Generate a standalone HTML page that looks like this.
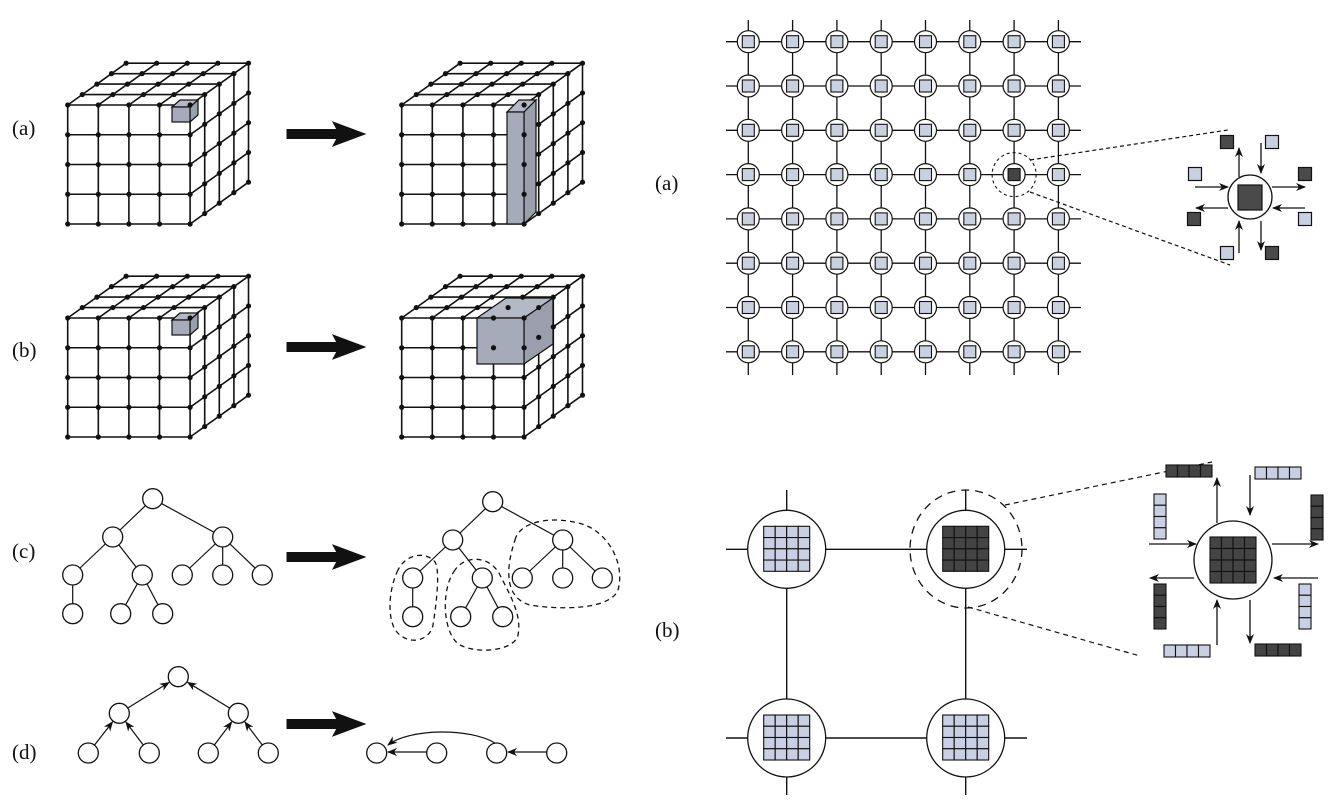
<!DOCTYPE html>
<html><head><meta charset="utf-8"><style>
html,body{margin:0;padding:0;background:#fff;}
svg{display:block;}
text{font-family:"Liberation Serif",serif;font-size:21px;font-weight:normal;fill:#111;}
</style></head><body>
<svg id="s" width="1341" height="811" viewBox="0 0 1341 811" xmlns="http://www.w3.org/2000/svg">
<defs>
<marker id="ah" markerWidth="10" markerHeight="8" refX="9" refY="4" orient="auto" markerUnits="userSpaceOnUse"><path d="M0,0 L10,4 L0,8 L3,4 Z" fill="#111"/></marker>
</defs>
<g id="g"></g>
<text x="12" y="135">(a)</text>
<text x="12" y="357">(b)</text>
<text x="12" y="558">(c)</text>
<text x="12" y="759">(d)</text>
<text x="655" y="190">(a)</text>
<text x="655" y="637">(b)</text>
</svg>
<script>
var g=document.getElementById('g'),out='';
function L(x1,y1,x2,y2,ex){out+='<line x1="'+x1+'" y1="'+y1+'" x2="'+x2+'" y2="'+y2+'" stroke="#111" stroke-width="'+(ex&&ex.w||1.6)+'"'+(ex&&ex.d?' stroke-dasharray="'+ex.d+'"':'')+(ex&&ex.m?' marker-end="url(#ah)"':'')+'/>';}
function C(x,y,r,ex){out+='<circle cx="'+x+'" cy="'+y+'" r="'+r+'" fill="'+(ex&&ex.f||'#fff')+'" stroke="#111" stroke-width="'+(ex&&ex.w||1.3)+'"'+(ex&&ex.d?' stroke-dasharray="'+ex.d+'"':'')+'/>';}
function R(x,y,w,h,f,sw){out+='<rect x="'+x+'" y="'+y+'" width="'+w+'" height="'+h+'" fill="'+f+'" stroke="#111" stroke-width="'+(sw||1.2)+'"/>';}
function P(d,f,ex){out+='<path d="'+d+'" fill="'+(f||'none')+'" stroke="#111" stroke-width="'+(ex&&ex.w||1.3)+'"'+(ex&&ex.d?' stroke-dasharray="'+ex.d+'"':'')+'/>';}
function cube(ox,oy,extra){
 var fx=[],fy=[];for(var i=0;i<5;i++){fx.push(ox+i*30.6);fy.push(oy+i*29.75);}
 var dx=14.6,dy=-10.45;
 for(var j=0;j<5;j++)L(fx[0],fy[j],fx[4],fy[j]);
 for(var i=0;i<5;i++)L(fx[i],fy[0],fx[i],fy[4]);
 for(var k=1;k<5;k++){L(fx[0]+k*dx,fy[0]+k*dy,fx[4]+k*dx,fy[0]+k*dy);L(fx[4]+k*dx,fy[0]+k*dy,fx[4]+k*dx,fy[4]+k*dy);}
 for(var i=0;i<5;i++)L(fx[i],fy[0],fx[i]+4*dx,fy[0]+4*dy);
 for(var j=1;j<5;j++)L(fx[4],fy[j],fx[4]+4*dx,fy[j]+4*dy);
 if(extra)extra();
 var d=function(x,y){out+='<circle cx="'+x+'" cy="'+y+'" r="2.6" fill="#111"/>';};
 for(var i=0;i<5;i++)for(var j=0;j<5;j++)d(fx[i],fy[j]);
 for(var k=1;k<5;k++){for(var i=0;i<5;i++)d(fx[i]+k*dx,fy[0]+k*dy);for(var j=1;j<5;j++)d(fx[4]+k*dx,fy[j]+k*dy);}
}
function box(x1,y1,x2,y2,ddx,ddy){
 P('M'+x1+','+y1+' L'+(x1+ddx)+','+(y1+ddy)+' L'+(x2+ddx)+','+(y1+ddy)+' L'+x2+','+y1+' Z','#b4b9c6',{w:1.2});
 P('M'+x2+','+y1+' L'+(x2+ddx)+','+(y1+ddy)+' L'+(x2+ddx)+','+(y2+ddy)+' L'+x2+','+y2+' Z','#9a9fae',{w:1.2});
 R(x1,y1,x2-x1,y2-y1,'#a6abb9');
}
cube(67.7,105,function(){box(172,107,190,122,8,-7);});
cube(401.7,105,function(){box(507,112,524,224,12,-12);});
cube(67.7,318,function(){box(172,320,190,335,8,-7);});
cube(401.7,318,function(){box(477,318,524,364,29,-20);});
function big(y){P('M287,'+(y-4.5)+' L337,'+(y-4.5)+' L333,'+(y-12)+' L365,'+y+' L333,'+(y+12)+' L337,'+(y+4.5)+' L287,'+(y+4.5)+' Z','#111',{w:1});}
big(134);big(347);big(557);big(724);
function tree(sx,sy){
 var n={r:[492.7,501.7],a:[452.7,540],b:[562.7,540],c:[412.7,578],d:[482.3,578],e:[522.3,578],f:[562.7,578],h:[602.3,578],i:[412.7,616.7],j:[460.7,616.7],k:[502.7,616.7]};
 for(var q in n){n[q][0]+=sx;n[q][1]+=sy;}
 var E=[['r','a'],['r','b'],['a','c'],['a','d'],['b','e'],['b','f'],['b','h'],['c','i'],['d','j'],['d','k']];
 E.forEach(function(e){L(n[e[0]][0],n[e[0]][1],n[e[1]][0],n[e[1]][1],{w:1.2});});
 for(var q in n)C(n[q][0],n[q][1],10);
}
tree(-340,-3);tree(0,0);
var dd={d:'5,4',w:1.3};
P('M398,570 C388,590 386,625 400,635 C412,645 430,640 433,625 C437,600 440,570 435,562 C425,550 405,555 398,570 Z',null,dd);
P('M455,570 C440,590 443,635 460,645 C480,655 515,650 518,635 C522,615 510,595 500,575 C490,555 465,555 455,570 Z',null,dd);
P('M515,540 C520,520 555,515 585,525 C610,535 625,565 618,590 C610,610 560,610 530,605 C505,598 505,570 515,540 Z',null,dd);
var T={r:[178.3,676.7],a:[119.3,713.3],b:[238.3,713.3],c:[88.3,753],d:[149.3,753],e:[208.3,753],f:[268.3,753]};
function arr(p,q,r){var dx=q[0]-p[0],dy=q[1]-p[1],l=Math.hypot(dx,dy);L(p[0]+dx/l*r,p[1]+dy/l*r,q[0]-dx/l*(r+1),q[1]-dy/l*(r+1),{w:1.2,m:1});}
[['a','r'],['b','r'],['c','a'],['d','a'],['e','b'],['f','b']].forEach(function(e){arr(T[e[0]],T[e[1]],10);});
for(var q in T)C(T[q][0],T[q][1],10);
var U=[[376.7,753],[436.7,753],[496.7,753],[556.7,753]];
U.forEach(function(u){C(u[0],u[1],10);});
L(426.7,752,388,752,{w:1.2,m:1});L(546.7,752,508,752,{w:1.2,m:1});
out+='<path d="M495,743 C470,728 410,728 388,745" fill="none" stroke="#111" stroke-width="1.2" marker-end="url(#ah)"/>';
var gx=[],gy=[];for(var i=0;i<8;i++){gx.push(748.3+i*44.3);gy.push(41.7+i*44.3);}
for(var i=0;i<8;i++){L(726,gy[i],1081,gy[i],{w:1.3});L(gx[i],20,gx[i],375,{w:1.3});}
for(var i=0;i<8;i++)for(var j=0;j<8;j++){C(gx[i],gy[j],11,{w:1.2});R(gx[i]-6,gy[j]-6,12,12,(i==6&&j==3)?'#444':'#c9d0e0',1.1);}
C(gx[6],gy[3],22,{f:'none',d:'3,3',w:1.1});
L(1030,160,1228,130,{d:'4,3',w:1.2});L(1030,192,1230,265,{d:'4,3',w:1.2});
C(1250,197,22,{w:1.3});R(1238,185,24,25,'#4a4a4a');
[[1227,142,1],[1272,142,0],[1195,174,0],[1305,174,1],[1194,219,1],[1305,219,0],[1227,253,0],[1272,253,1]].forEach(function(s){R(s[0]-6.5,s[1]-6.5,13,13,s[2]?'#4a4a4a':'#c9d0e0');});
var am={w:1.3,m:1};
L(1239,177,1239,148,am);L(1261,143,1261,173,am);L(1195,187,1228,187,am);L(1272,187,1305,187,am);
L(1228,208,1196,208,am);L(1305,208,1273,208,am);L(1239,253,1239,221,am);L(1261,221,1261,250,am);
var bx=[786.7,965.7],by=[549.3,738];
for(var j=0;j<2;j++){L(726,by[j],1027,by[j],{w:1.4});L(bx[j],490,bx[j],795,{w:1.4});}
function gridSq(x,y,w,h,nx,ny,f){for(var i=0;i<nx;i++)for(var j=0;j<ny;j++)R(x+i*w/nx,y+j*h/ny,w/nx,h/ny,f,1.1);}
for(var i=0;i<2;i++)for(var j=0;j<2;j++){C(bx[i],by[j],39,{w:1.3});var dk=(i==1&&j==0);gridSq(bx[i]-23,by[j]-23,46,45,4,4,dk?'#444':'#c9d0e4');}
out+='<ellipse cx="966" cy="549" rx="56" ry="59" fill="none" stroke="#111" stroke-width="1.3" stroke-dasharray="8,6"/>';
L(1005,505,1212,462,{d:'5,4',w:1.2});L(968,607,1140,656,{d:'5,4',w:1.2});
C(1233,560,39,{w:1.3});gridSq(1210,537,46,46,4,4,'#444');
var D='#444',Lc='#c9d0e4';
gridSq(1166,465,46,12,4,1,D);gridSq(1255,467,46,12,4,1,Lc);
gridSq(1154,494,12,45,1,4,Lc);gridSq(1311,495,12,45,1,4,D);
gridSq(1154,584,12,45,1,4,D);gridSq(1299,584,12,45,1,4,Lc);
gridSq(1164,645,46,12,4,1,Lc);gridSq(1255,644,46,12,4,1,D);
L(1217,523,1217,478,am);L(1250,475,1250,515,am);L(1149,544,1196,544,am);L(1272,544,1318,544,am);
L(1194,578,1150,578,am);L(1318,578,1274,578,am);L(1217,645,1217,600,am);L(1250,600,1250,643,am);
g.innerHTML=out;
</script>
</body></html>
